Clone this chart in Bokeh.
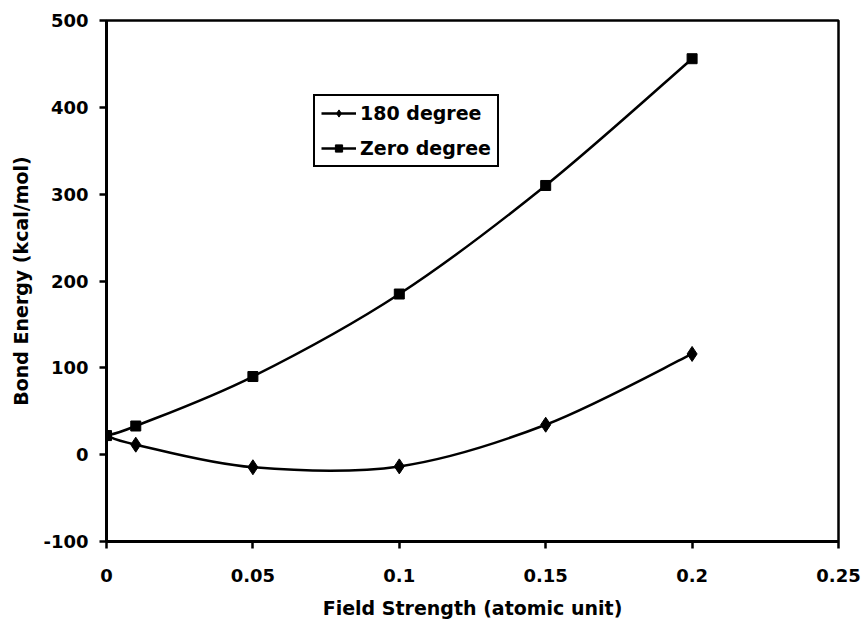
from bokeh.plotting import figure
from bokeh.models import Range1d, FixedTicker, CustomJSTickFormatter, Legend, LegendItem
from bokeh.embed import file_html
from bokeh.resources import INLINE

field = [0, 0.01, 0.05, 0.1, 0.15, 0.2]
deg180 = [22, 11.5, -14.5, -13.5, 34.5, 116]
deg0 = [22, 33, 90, 185, 310, 456]
series_names = ["180 degree", "Zero degree"]
x_ticks = [0, 0.05, 0.1, 0.15, 0.2, 0.25]
y_ticks = [-100, 0, 100, 200, 300, 400, 500]

FONT = "DejaVu Sans"

p = figure(width=865, height=622, output_backend="svg", toolbar_location=None,
           x_range=Range1d(0, 0.25), y_range=Range1d(-100, 500),
           min_border_left=106, min_border_right=27, min_border_top=20, min_border_bottom=81)
p.xgrid.visible = False
p.ygrid.visible = False
p.background_fill_color = "white"
p.border_fill_color = "white"
p.outline_line_color = "black"
p.outline_line_width = 2.5
p.outline_line_alpha = 1

for ax in (p.xaxis[0], p.yaxis[0]):
    ax.axis_line_width = 3
    ax.axis_line_color = "black"
    ax.major_tick_line_width = 2.5
    ax.major_tick_out = 7
    ax.major_tick_in = 0
    ax.minor_tick_out = 0
    ax.minor_tick_in = 0
    ax.major_label_text_font = FONT
    ax.major_label_text_font_style = "bold"
    ax.major_label_text_font_size = "18px"
    ax.major_label_text_color = "black"
    ax.axis_label_text_font = FONT
    ax.axis_label_text_font_style = "bold"
    ax.axis_label_text_font_size = "19px"
    ax.axis_label_text_color = "black"

p.xaxis[0].ticker = FixedTicker(ticks=x_ticks)
p.yaxis[0].ticker = FixedTicker(ticks=y_ticks)
p.xaxis[0].formatter = CustomJSTickFormatter(code="""
    let s = tick.toFixed(2);
    s = s.replace(/0+$/, '').replace(/\\.$/, '');
    return s;
""")
p.yaxis[0].formatter = CustomJSTickFormatter(code="return String(Math.round(tick));")
p.xaxis[0].major_label_standoff = 20
p.yaxis[0].major_label_standoff = 11
p.xaxis[0].axis_label = "Field Strength (atomic unit)"
p.yaxis[0].axis_label = "Bond Energy (kcal/mol)"
p.xaxis[0].axis_label_standoff = 12
p.yaxis[0].axis_label_standoff = 8


def smooth(xs, ys):
    x0, y0, x1, y1, cx0, cy0, cx1, cy1 = [], [], [], [], [], [], [], []
    n = len(xs)
    for i in range(n - 1):
        ip = max(i - 1, 0)
        inn = min(i + 2, n - 1)
        x0.append(xs[i]); y0.append(ys[i])
        x1.append(xs[i + 1]); y1.append(ys[i + 1])
        cx0.append(xs[i] + (xs[i + 1] - xs[ip]) / 6)
        cy0.append(ys[i] + (ys[i + 1] - ys[ip]) / 6)
        cx1.append(xs[i + 1] - (xs[inn] - xs[i]) / 6)
        cy1.append(ys[i + 1] - (ys[inn] - ys[i]) / 6)
    return dict(x0=x0, y0=y0, x1=x1, y1=y1, cx0=cx0, cy0=cy0, cx1=cx1, cy1=cy1)


p.bezier(line_color="black", line_width=2.5, **smooth(field, deg180))
p.bezier(line_color="black", line_width=2.5, **smooth(field, deg0))
m1 = p.scatter(field, deg180, marker="diamond", size=15, color="black")
m2 = p.scatter(field, deg0, marker="square", size=10, color="black")

leg_line1 = p.line([field[0]], [deg180[0]], line_color="black", line_width=2.5)
leg_line2 = p.line([field[0]], [deg0[0]], line_color="black", line_width=2.5)

legend = Legend(items=[
    LegendItem(label=series_names[0], renderers=[leg_line1, m1]),
    LegendItem(label=series_names[1], renderers=[leg_line2, m2]),
], location=(207, 374))
legend.label_text_font = FONT
legend.label_text_font_style = "bold"
legend.label_text_font_size = "19px"
legend.label_text_color = "black"
legend.border_line_color = "black"
legend.border_line_width = 2.5
legend.border_line_alpha = 1
legend.glyph_width = 35
legend.glyph_height = 18
legend.label_height = 18
legend.label_standoff = 4
legend.padding = 6
legend.spacing = 13
legend.margin = 0
legend.background_fill_alpha = 1
p.add_layout(legend, "center")

open("out.html", "w").write(file_html(p, INLINE))
